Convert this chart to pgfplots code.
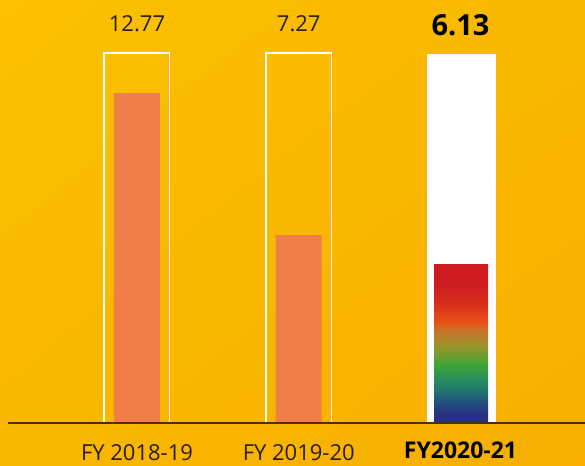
\documentclass[border=0pt]{standalone}
\usepackage{pgfplots}
\pgfplotsset{compat=1.18}
\usetikzlibrary{shadings}
\usepackage{fontspec}
\setmainfont{Open Sans}
\definecolor{bgA}{RGB}{252,193,0}
\definecolor{bgB}{RGB}{250,184,0}
\definecolor{bgC}{RGB}{247,174,0}
\definecolor{barOr}{RGB}{240,126,74}
\definecolor{baseln}{RGB}{70,50,15}
\definecolor{txt}{RGB}{40,30,10}
\pgfdeclareverticalshading{rainbowbar}{100bp}{%
 color(0bp)=(rgb,255:red,40;green,48;blue,130);
 color(25bp)=(rgb,255:red,40;green,48;blue,130);
 color(28.1bp)=(rgb,255:red,40;green,50;blue,130);
 color(31.3bp)=(rgb,255:red,35;green,78;blue,125);
 color(34.4bp)=(rgb,255:red,30;green,110;blue,115);
 color(38.6bp)=(rgb,255:red,40;green,140;blue,95);
 color(43.3bp)=(rgb,255:red,60;green,165;blue,55);
 color(49bp)=(rgb,255:red,150;green,150;blue,45);
 color(54.3bp)=(rgb,255:red,200;green,115;blue,40);
 color(56.9bp)=(rgb,255:red,233;green,80;blue,22);
 color(63bp)=(rgb,255:red,215;green,45;blue,28);
 color(69bp)=(rgb,255:red,205;green,27;blue,32);
 color(75bp)=(rgb,255:red,205;green,27;blue,32);
 color(100bp)=(rgb,255:red,205;green,27;blue,32)}
\begin{document}
\begin{tikzpicture}
\shade[upper left=bgA, upper right=bgB, lower left=bgB, lower right=bgC] (0,0) rectangle (585pt,465pt);
\begin{axis}[
  at={(0,0)}, anchor=south west,
  scale only axis, width=585pt, height=465pt,
  xmin=-0.847, xmax=2.770, ymin=-1.625, ymax=16.37,
  hide axis, clip=false,
]
% frames
\addplot[ybar, bar width=65.5pt, draw=white, line width=1.5pt, fill=none, forget plot] coordinates {(0,14.32) (1,14.32)};
\addplot[ybar, bar width=69pt, draw=none, fill=white, forget plot] coordinates {(2.004,14.28)};
% inner bars
\addplot[ybar, bar width=46pt, draw=none, fill=barOr, forget plot] coordinates {(0,12.77) (1.0,7.27)};
\addplot[ybar, bar width=54pt, draw=none, shading=rainbowbar, forget plot] coordinates {(2.004,6.13)};
% baseline
\draw[baseln, line width=1.5pt] (axis cs:-0.7975,0) -- (axis cs:2.770,0);
% value labels
\node[anchor=base, inner sep=0pt, font=\fontsize{22}{26}\selectfont, text=txt] at (axis cs:0,15.14) {12.77};
\node[anchor=base, inner sep=0pt, font=\fontsize{22}{26}\selectfont, text=txt] at (axis cs:1,15.14) {7.27};
\node[anchor=base, inner sep=0pt, font=\fontsize{29}{34}\selectfont\bfseries, text=black] at (axis cs:2.0,14.98) {6.13};
% category labels
\node[anchor=base, inner sep=0pt, font=\fontsize{22}{26}\selectfont, text=txt] at (axis cs:0,-1.44) {FY 2018-19};
\node[anchor=base, inner sep=0pt, font=\fontsize{22}{26}\selectfont, text=txt] at (axis cs:1,-1.44) {FY 2019-20};
\node[anchor=base, inner sep=0pt, font=\fontsize{23}{27}\selectfont\bfseries, text=black] at (axis cs:2.0,-1.39) {FY2020-21};
\end{axis}
\pgfresetboundingbox
\useasboundingbox (0,0) rectangle (585pt,465pt);
\end{tikzpicture}
\end{document}
